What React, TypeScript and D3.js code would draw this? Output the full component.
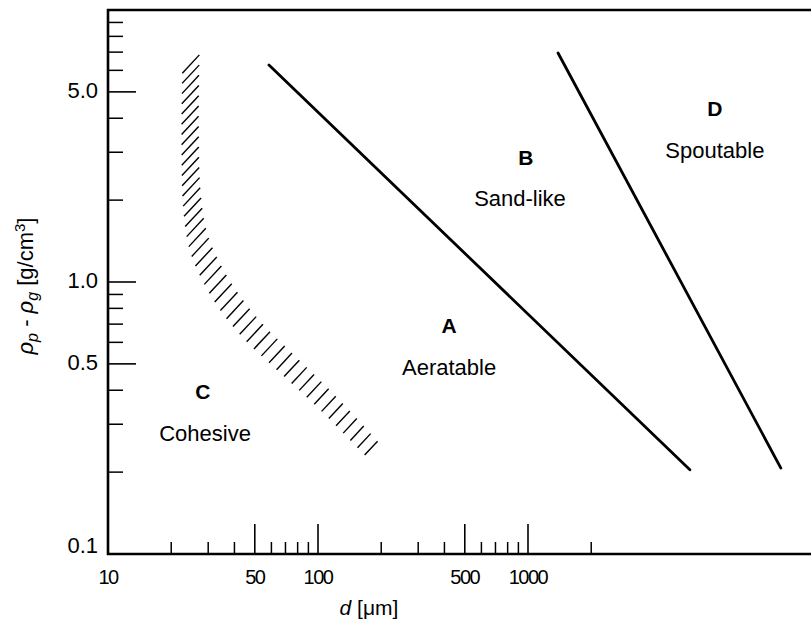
import React, { useEffect, useRef } from "react";
import * as d3 from "d3";

const W = 811;
const H = 632;

// axis ticks
const xMinorTicks = [20, 30, 40, 60, 70, 80, 90, 200, 300, 400, 600, 700, 800, 900, 2000];
const xMajorTicks = [50, 100, 500, 1000];
const xTickLabels = [10, 50, 100, 500, 1000];
const yMinorTicks = [0.2, 0.3, 0.4, 0.6, 0.7, 0.8, 0.9, 2, 3, 4, 6, 7, 8, 9];
const yMajorTicks = [0.5, 1, 5];
const yTickValues = [0.1, 0.5, 1, 5];
const yTickLabels = ["0.1", "0.5", "1.0", "5.0"];

// group boundaries (d in µm, density difference in g/cm3)
const boundaryAB_d = [58.4, 5900];
const boundaryAB_rho = [6.28, 0.204];
const boundaryBD_d = [1390, 16000];
const boundaryBD_rho = [6.95, 0.207];

// hatched cohesive boundary (centre line)
const cohesiveBand_d = [24.8, 24.6, 25.1, 26.8, 30.6, 37.3, 48.5, 69.6, 108, 179];
const cohesiveBand_rho = [6.33, 3.62, 2.0, 1.43, 1.11, 0.858, 0.666, 0.508, 0.368, 0.245];

// group labels
const groupLetters = ["A", "B", "C", "D"];
const groupNames = ["Aeratable", "Sand-like", "Cohesive", "Spoutable"];
const letterD = [421, 977, 28.3, 7762];
const letterRho = [0.695, 2.88, 0.397, 4.36];
const nameD = [421, 916, 29.0, 7762];
const nameRho = [0.487, 2.04, 0.279, 3.06];

export default function App() {
  const ref = useRef<SVGSVGElement>(null);

  useEffect(() => {
    document.body.style.margin = "0";
    const svg = d3.select(ref.current);
    svg.selectAll("*").remove();

    const x = d3.scaleLog().domain([10, 1000]).range([108, 528]);
    const y = d3.scaleLog().domain([0.1, 10]).range([554, 10]);
    const font = "'Liberation Sans', Arial, sans-serif";

    // frame
    const x0 = x(10), yb = y(0.1), yt = y(10);
    svg.append("path")
      .attr("d", `M${W},${yt}H${x0}V${yb}H${W}`)
      .attr("fill", "none").attr("stroke", "#000").attr("stroke-width", 2.6);

    // y ticks (inward)
    svg.append("g").selectAll("line").data(yMinorTicks).join("line")
      .attr("x1", x0).attr("x2", x0 + 15)
      .attr("y1", (d) => y(d)).attr("y2", (d) => y(d))
      .attr("stroke", "#000").attr("stroke-width", 1.5);
    svg.append("g").selectAll("line").data(yMajorTicks).join("line")
      .attr("x1", x0).attr("x2", x0 + 28)
      .attr("y1", (d) => y(d)).attr("y2", (d) => y(d))
      .attr("stroke", "#000").attr("stroke-width", 1.6);

    // x ticks (inward)
    svg.append("g").selectAll("line").data(xMinorTicks).join("line")
      .attr("x1", (d) => x(d)).attr("x2", (d) => x(d))
      .attr("y1", yb).attr("y2", yb - 12)
      .attr("stroke", "#000").attr("stroke-width", 1.5);
    svg.append("g").selectAll("line").data(xMajorTicks).join("line")
      .attr("x1", (d) => x(d)).attr("x2", (d) => x(d))
      .attr("y1", yb).attr("y2", yb - 30)
      .attr("stroke", "#000").attr("stroke-width", 1.6);

    // y tick labels
    svg.append("g").selectAll("text").data(yTickValues).join("text")
      .attr("x", 98)
      .attr("y", (d, i) => (i === 0 ? y(d) - 1 : y(d) + 6))
      .attr("text-anchor", "end")
      .attr("font-family", font).attr("font-size", 22)
      .text((d, i) => yTickLabels[i]);

    // x tick labels
    svg.append("g").selectAll("text").data(xTickLabels).join("text")
      .attr("x", (d) => x(d))
      .attr("y", 584)
      .attr("text-anchor", "middle")
      .attr("font-family", font).attr("font-size", 20)
      .attr("letter-spacing", -1.5)
      .text((d) => String(d));

    // axis titles
    const xt = svg.append("text")
      .attr("x", 369).attr("y", 615)
      .attr("text-anchor", "middle")
      .attr("font-family", font).attr("font-size", 21);
    xt.append("tspan").attr("font-style", "italic").text("d");
    xt.append("tspan").text(" [\u03bcm]");

    const yt2 = svg.append("text")
      .attr("transform", `translate(33,286) rotate(-90)`)
      .attr("text-anchor", "middle")
      .attr("font-family", font).attr("font-size", 22);
    yt2.append("tspan").attr("font-style", "italic").text("\u03c1");
    yt2.append("tspan").attr("font-style", "italic").attr("font-size", 16).attr("dy", 5).text("p");
    yt2.append("tspan").attr("dy", -5).text(" - ");
    yt2.append("tspan").attr("font-style", "italic").text("\u03c1");
    yt2.append("tspan").attr("font-style", "italic").attr("font-size", 16).attr("dy", 5).text("g");
    yt2.append("tspan").attr("dy", -5).text(" [g/cm");
    yt2.append("tspan").attr("font-size", 15).attr("dy", -8).text("3");
    yt2.append("tspan").attr("dy", 8).text("]");

    // boundary lines
    const line = d3.line<[number, number]>().x((p) => x(p[0])).y((p) => y(p[1]));
    const ab: [number, number][] = boundaryAB_d.map((d, i) => [d, boundaryAB_rho[i]]);
    const bd: [number, number][] = boundaryBD_d.map((d, i) => [d, boundaryBD_rho[i]]);
    [ab, bd].forEach((pts) => {
      svg.append("path").attr("d", line(pts))
        .attr("fill", "none").attr("stroke", "#000")
        .attr("stroke-width", 2.8).attr("stroke-linecap", "round");
    });

    // hatched cohesive band
    const bandPts: [number, number][] = cohesiveBand_d.map((d, i) => [d, cohesiveBand_rho[i]]);
    const curve = d3.line<[number, number]>()
      .x((p) => x(p[0])).y((p) => y(p[1]))
      .curve(d3.curveCatmullRom.alpha(0.5));
    const guide = svg.append("path").attr("d", curve(bandPts)).attr("fill", "none").attr("stroke", "none");
    const node = guide.node() as SVGPathElement;
    const total = node.getTotalLength();
    const spacing = 10.2;
    const n = Math.floor(total / spacing);
    const step = total / n;
    const ux = Math.cos((47 * Math.PI) / 180);
    const uy = -Math.sin((47 * Math.PI) / 180);
    const hatch = svg.append("g");
    for (let i = 0; i <= n; i++) {
      const t = i / n;
      const p = node.getPointAtLength(i * step);
      const L = 25 - 6 * Math.max(0, (t - 0.55) / 0.45);
      hatch.append("line")
        .attr("x1", p.x - (ux * L) / 2).attr("y1", p.y - (uy * L) / 2)
        .attr("x2", p.x + (ux * L) / 2).attr("y2", p.y + (uy * L) / 2)
        .attr("stroke", "#000").attr("stroke-width", 1.4);
    }

    // group labels
    const lg = svg.append("g").attr("font-family", font).attr("text-anchor", "middle");
    lg.selectAll("text.letter").data(groupLetters).join("text")
      .attr("class", "letter")
      .attr("x", (d, i) => x(letterD[i]))
      .attr("y", (d, i) => y(letterRho[i]))
      .attr("dy", "0.36em")
      .attr("font-size", 21).attr("font-weight", "bold")
      .text((d) => d);
    lg.selectAll("text.name").data(groupNames).join("text")
      .attr("class", "name")
      .attr("x", (d, i) => x(nameD[i]))
      .attr("y", (d, i) => y(nameRho[i]))
      .attr("dy", "0.36em")
      .attr("font-size", 22)
      .text((d) => d);
  }, []);

  return <svg ref={ref} width={W} height={H} style={{ display: "block", background: "#fff" }} />;
}
